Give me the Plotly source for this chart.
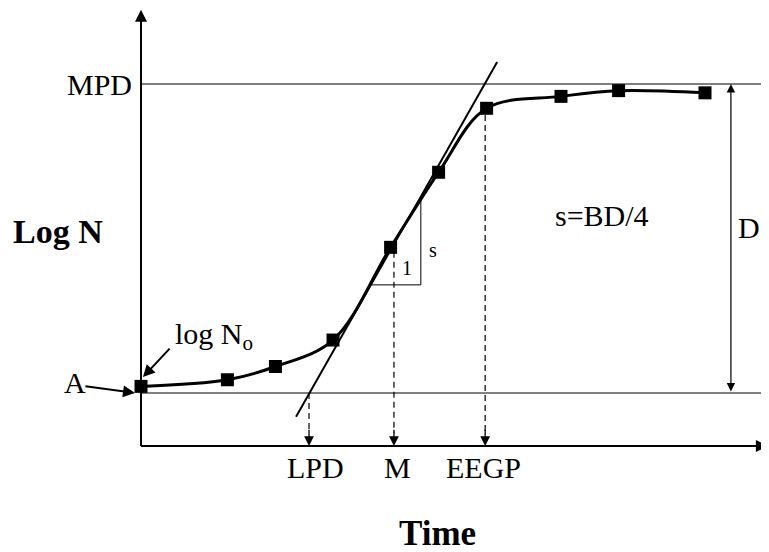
import plotly.graph_objects as go

# ---- data (logical units: time, log N) ----
time_pts = [0.0, 1.8, 2.8, 4.0, 5.2, 6.2, 7.2, 8.75, 9.95, 11.75]
logn_pts = [3.15, 3.3, 3.6, 4.2, 6.3, 8.0, 9.45, 9.72, 9.85, 9.8]

A_level = 3.0
MPD_level = 10.0
x_axis_level = 1.8
y_axis_top = 11.68
x_axis_end = 13.06

LPD = 3.5
M = 5.27
EEGP = 7.17
D_time = 12.29

tangent_t = [3.23, 7.42]
tangent_logn = [2.46, 10.5]

tri_t = [4.81, 5.83, 5.83]
tri_logn = [5.45, 5.45, 7.35]

dash_start = {"LPD": 3.0, "M": 6.2, "EEGP": 9.3}

FONT = "Liberation Serif"

fig = go.Figure()

# horizontal reference lines
for lvl in [A_level, MPD_level]:
    fig.add_trace(go.Scatter(x=[0, x_axis_end], y=[lvl, lvl], mode="lines",
                             line=dict(color="black", width=1), hoverinfo="skip"))

# tangent line
fig.add_trace(go.Scatter(x=tangent_t, y=tangent_logn, mode="lines",
                         line=dict(color="black", width=2), hoverinfo="skip"))

# slope triangle
fig.add_trace(go.Scatter(x=tri_t, y=tri_logn, mode="lines",
                         line=dict(color="black", width=1), hoverinfo="skip"))

# dashed drop lines
for name, xv in [("LPD", LPD), ("M", M), ("EEGP", EEGP)]:
    fig.add_trace(go.Scatter(x=[xv, xv], y=[dash_start[name], x_axis_level + 0.3], mode="lines",
                             line=dict(color="black", width=1.2, dash="6px,4px"), hoverinfo="skip"))

# growth curve
fig.add_trace(go.Scatter(x=time_pts, y=logn_pts, mode="lines",
                         line=dict(color="black", width=3, shape="spline", smoothing=1.0),
                         hoverinfo="skip"))
fig.add_trace(go.Scatter(x=time_pts, y=logn_pts, mode="markers",
                         marker=dict(symbol="square", size=13, color="black"), hoverinfo="skip"))

# axes lines
fig.add_trace(go.Scatter(x=[0, 0], y=[x_axis_level, y_axis_top - 0.2], mode="lines",
                         line=dict(color="black", width=2), hoverinfo="skip"))
fig.add_trace(go.Scatter(x=[0, x_axis_end - 0.2], y=[x_axis_level, x_axis_level], mode="lines",
                         line=dict(color="black", width=2), hoverinfo="skip"))

ann = []

def arrow(x, y, ax, ay, width=1.5, side="end", head=2, size=1.3):
    ann.append(dict(x=x, y=y, ax=ax, ay=ay, xref="x", yref="y", axref="x", ayref="y",
                    text="", showarrow=True, arrowhead=head, arrowsize=size, arrowwidth=width,
                    arrowcolor="black", arrowside=side, startarrowhead=head,
                    startarrowsize=size, standoff=0, startstandoff=0))

# axis arrowheads
arrow(0, y_axis_top, 0, y_axis_top - 0.5, width=2, size=1.2)
arrow(x_axis_end, x_axis_level, x_axis_end - 0.5, x_axis_level, width=2, size=1.2)

# drop arrowheads
for xv in [LPD, M, EEGP]:
    arrow(xv, x_axis_level, xv, x_axis_level + 0.4, width=1.3, size=1.5)

# A arrow and log N0 arrow
arrow(-0.125, A_level, -1.19, 3.16, width=2, size=1.2)
arrow(0.04, 3.36, 0.625, 4.04, width=2, size=1.2)

# D double arrow
ann.append(dict(x=D_time, y=MPD_level, ax=D_time, ay=A_level, xref="x", yref="y",
                axref="x", ayref="y", text="", showarrow=True, arrowhead=2,
                startarrowhead=2, arrowside="end+start", arrowsize=1.4, startarrowsize=1.4,
                arrowwidth=1.2, arrowcolor="black", standoff=0, startstandoff=0))

def label(x, y, text, size=30, bold=False, xanchor="center"):
    ann.append(dict(x=x, y=y, xref="x", yref="y", text=f"<b>{text}</b>" if bold else text,
                    showarrow=False, xanchor=xanchor, yanchor="middle",
                    font=dict(family=FONT, size=size, color="black")))

label(-0.15, MPD_level, "MPD", xanchor="right")
label(-1.375, 3.23, "A")
label(1.52, 4.29, "log N<sub>o</sub>")
label(3.625, 1.32, "LPD")
label(5.35, 1.32, "M")
label(7.125, 1.32, "EEGP")
label(9.6, 7.03, "s=BD/4")
label(12.67, 6.74, "D")
label(5.54, 5.83, "1", size=20)
label(6.08, 6.24, "s", size=20)
label(-1.72, 6.65, "Log N", size=34, bold=True)
label(6.17, -0.19, "Time", size=35, bold=True)

# page body has an 8px margin, so the figure sits at (8, 8) in the window
fig.update_layout(
    width=761, height=544,
    margin=dict(l=0, r=0, t=0, b=0),
    paper_bgcolor="white", plot_bgcolor="white",
    showlegend=False,
    xaxis=dict(range=[-2.771, 13.0833], visible=False, fixedrange=True),
    yaxis=dict(range=[-0.602, 11.722], visible=False, fixedrange=True),
    annotations=ann,
)

fig.write_html("out.html")
